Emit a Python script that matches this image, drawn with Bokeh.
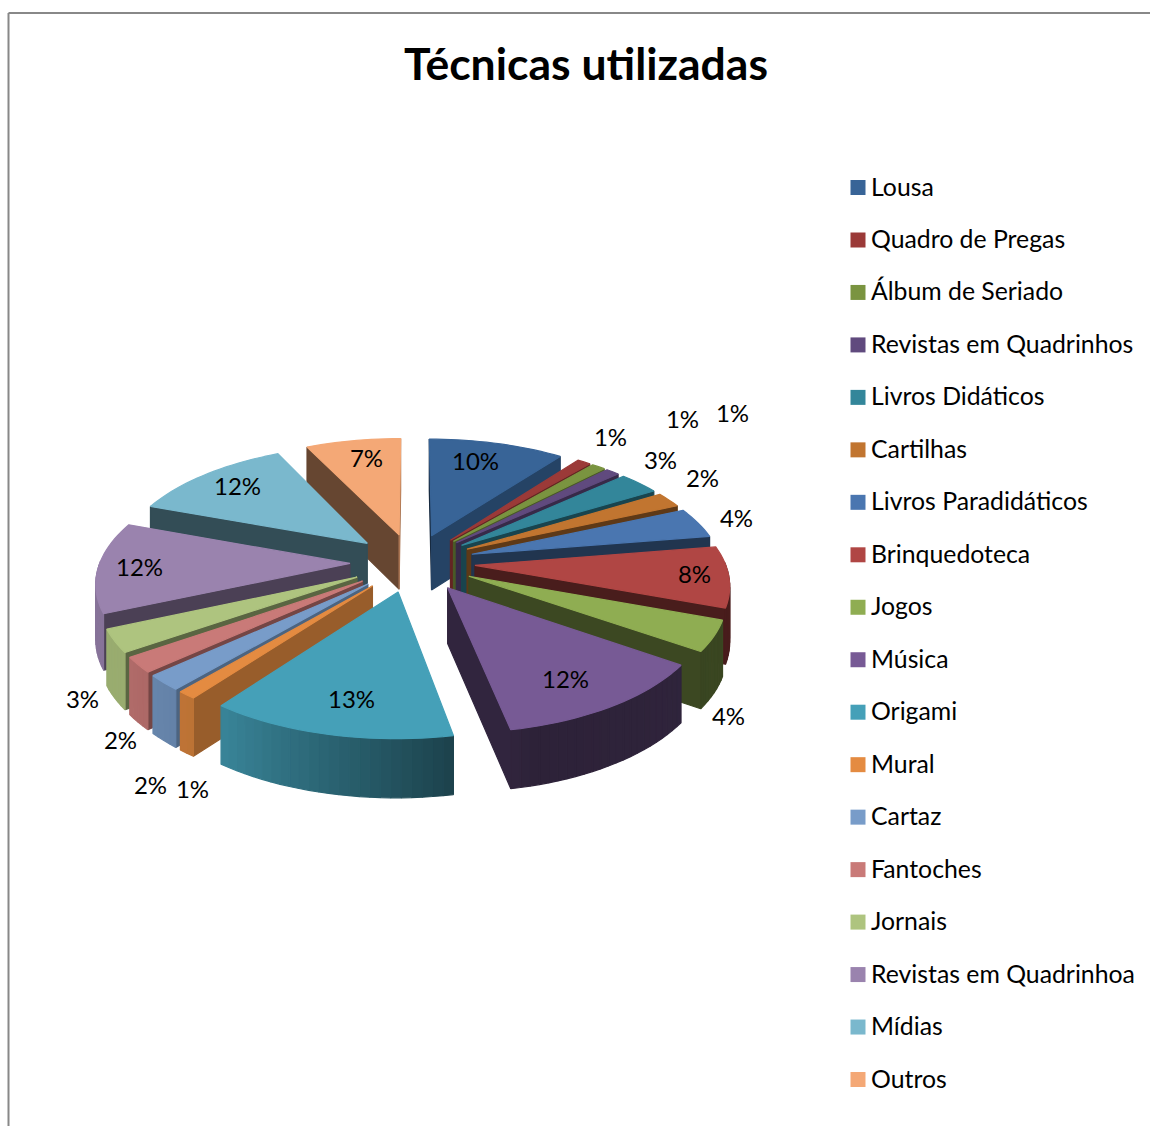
import numpy as np
from bokeh.plotting import figure
from bokeh.models import Range1d
from bokeh.core.properties import value
from bokeh.embed import file_html
from bokeh.resources import INLINE

title = "Técnicas utilizadas"
categories = ["Lousa", "Quadro de Pregas", "Álbum de Seriado", "Revistas em Quadrinhos",
              "Livros Didáticos", "Cartilhas", "Livros Paradidáticos", "Brinquedoteca",
              "Jogos", "Música", "Origami", "Mural", "Cartaz", "Fantoches", "Jornais",
              "Revistas em Quadrinhoa", "Mídias", "Outros"]
percents = [10, 1, 1, 1, 3, 2, 4, 8, 4, 12, 13, 1, 2, 2, 3, 12, 12, 7]
colors = ["#386497", "#9B3A38", "#7A9440", "#604A7E", "#33869A", "#C17530",
          "#4A76B0", "#B04644", "#8FAD52", "#775A95", "#45A0B8", "#E48B41",
          "#789CC9", "#C97A78", "#AEC47F", "#9A83AE", "#7AB8CD", "#F4A876"]

# layout of the hand-placed data labels (centres, in page pixels)
label_x = [475, 610, 682, 732, 660, 702, 736, 694, 728, 565, 351, 192, 150, 120, 82, 139, 237, 366]
label_y = [460, 436, 418, 412, 459, 477, 517, 573, 715, 678, 698, 788, 784, 739, 698, 566, 485, 457]

# projection of the exploded pie
CX, CY, A, B, K, DEPTH, EXPLODE = 412, 562, 250, 117, 0.14, 55, 0.25


def project(X, Y, down=0.0):
    w = 1 + K * Y
    return CX + A * X / w, CY - B * Y / w + down * DEPTH / (1 + 0.4 * K * Y)


def shade(hex_color, f):
    r, g, b = [int(hex_color[i:i + 2], 16) for i in (1, 3, 5)]
    return "#%02x%02x%02x" % (int(r * f), int(g * f), int(b * f))


def rim_factor(deg):
    return float(np.interp(deg, [0, 100, 130, 165, 190, 215, 235, 270, 360],
                           [.42, .42, .40, .38, .60, .82, .88, .88, .60]))


def wall_factor(deg):
    return float(np.interp(deg % 360, [100, 127, 145, 170, 200, 260], [.70, .67, .52, .45, .42, .42]))


fractions = np.array(percents, dtype=float) / sum(percents)
edges = np.concatenate([[0], np.cumsum(fractions)]) * 2 * np.pi
mids = (edges[:-1] + edges[1:]) / 2
order = np.argsort(-np.cos(mids))

all_x, all_y, fills = [], [], []


def add(xs, ys, c):
    all_x.append(list(xs)), all_y.append(list(ys)), fills.append(c)


for i in order:
    t0, t1, mid = edges[i], edges[i + 1], mids[i]
    ox, oy = EXPLODE * np.sin(mid), EXPLODE * np.cos(mid)
    ts = np.linspace(t0, t1, max(2, int(np.degrees(t1 - t0) / 2) + 2))
    X = ox + np.sin(ts)
    Y = oy + np.cos(ts)
    # radial walls: only those whose outward normal points toward the viewer
    for t, normal in ((t0, np.degrees(t0) - 90), (t1, np.degrees(t1) + 90)):
        if np.cos(np.radians(normal)) < 0.02:
            ex, ey = ox + np.sin(t), oy + np.cos(t)
            a, b, c, d = project(ox, oy), project(ex, ey), project(ex, ey, 1), project(ox, oy, 1)
            add([a[0], b[0], c[0], d[0]], [a[1], b[1], c[1], d[1]],
                shade(colors[i], wall_factor(normal)))
    # curved rim
    for j in range(len(ts) - 1):
        tm = (ts[j] + ts[j + 1]) / 2
        if np.cos(tm) > 0.02:
            continue
        p0, p1 = project(X[j], Y[j]), project(X[j + 1], Y[j + 1])
        p2, p3 = project(X[j + 1], Y[j + 1], 1), project(X[j], Y[j], 1)
        add([p0[0], p1[0], p2[0], p3[0]], [p0[1], p1[1], p2[1], p3[1]],
            shade(colors[i], rim_factor(np.degrees(tm))))
    # top face
    tx, ty = project(np.concatenate([[ox], X]), np.concatenate([[oy], Y]))
    add(tx, ty, colors[i])

p = figure(width=1150, height=1126, x_range=Range1d(0, 1150), y_range=Range1d(1126, 0),
           toolbar_location=None, output_backend="svg", min_border=0)
p.axis.visible = False
p.grid.visible = False
p.outline_line_color = None

# chart frame
p.segment([8, 8], [12.5, 12.5], [8, 1150], [1126, 12.5], line_color="#888888", line_width=2)

p.patches(all_x, all_y, fill_color=fills, line_color=fills, line_width=1.2)

p.text(label_x, label_y, text=[f"{v}%" for v in percents], text_align="center",
       text_baseline="middle", text_font=value("Lato"), text_font_size="24px", text_color="#000000")

p.text([585.5], [61.5], text=[title], text_align="center", text_baseline="middle",
       text_font=value("Lato"), text_font_size="44.5px", text_font_style="bold", text_color="#000000")

legend_y = [187 + k * (1079 - 187) / (len(categories) - 1) for k in range(len(categories))]
p.rect([857.5] * len(categories), legend_y, width=15, height=15, fill_color=colors, line_color=None)
p.text([870.5] * len(categories), [y - 1.5 for y in legend_y], text=categories, text_align="left",
       text_baseline="middle", text_font=value("Lato"), text_font_size="24.8px", text_color="#000000")

open("out.html", "w").write(file_html(p, INLINE))
